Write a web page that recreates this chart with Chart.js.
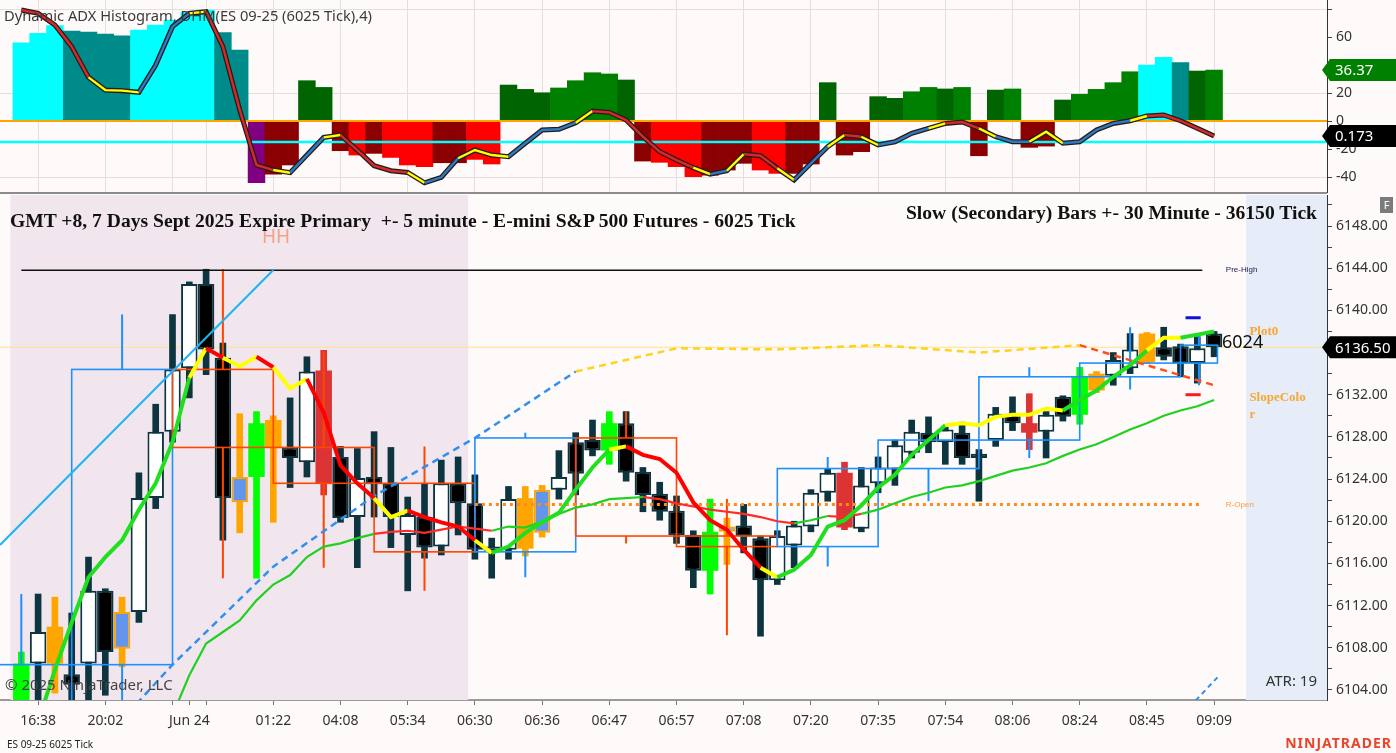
<!DOCTYPE html>
<html>
<head>
<meta charset="utf-8">
<script src="https://cdn.jsdelivr.net/npm/chart.js@4.4.1/dist/chart.umd.min.js"></script>
<style>
  html, body { margin: 0; padding: 0; background: #fefaf9; width: 1396px; height: 753px; overflow: hidden; }
  body { position: relative; font-family: "Noto Sans", sans-serif; }
  #top { position: absolute; left: 0; top: 0; width: 1396px; height: 193px; }
  #main { position: absolute; left: 0; top: 195px; width: 1396px; height: 558px; }
  .t { position: absolute; white-space: pre; line-height: 1; }
  .serif { font-family: "Liberation Serif", serif; font-weight: bold; font-size: 19.6px; color: #111; }
</style>
</head>
<body>
<div id="top"><canvas id="adx"></canvas></div>
<div id="main"><canvas id="price"></canvas></div>
<div style="position:absolute;left:0;top:192px;width:1327px;height:2px;background:#8c8c8c"></div>

<div class="t" style="left:4px;top:8px;font-size:14.7px;color:#3a3a3a">Dynamic ADX Histogram, DHM(ES 09-25 (6025 Tick),4)</div>
<div class="t serif" style="left:10px;top:211px">GMT +8, 7 Days Sept 2025 Expire Primary  +- 5 minute - E-mini S&amp;P 500 Futures - 6025 Tick</div>
<div class="t serif" style="right:79px;top:203px">Slow (Secondary) Bars +- 30 Minute - 36150 Tick</div>
<div class="t" style="left:5px;top:677px;font-size:15px;color:#444">© 2025 NinjaTrader, LLC</div>
<div class="t" style="right:79px;top:673px;font-size:15px;color:#333">ATR: 19</div>
<div class="t" style="left:7px;top:739px;font-size:10px;color:#222">ES 09-25 6025 Tick</div>
<div class="t" style="right:4px;top:736px;font-size:14px;font-weight:bold;color:#e8452c;letter-spacing:1px">NINJATRADER</div>
<div class="t" style="left:1380px;top:197px;width:13px;height:16px;background:#7b7b7b;color:#fff;font-size:11px;text-align:center;line-height:16px">F</div>

<script>
// bar axis: tick positions and their time labels
const tickPos  = [1, 5, 9, 10, 11, 15, 19, 23, 27, 31, 35, 39, 43, 47, 51, 55, 59, 63, 67, 71];
const tickText = ['16:38', '20:02', '', 'Jun 24', '', '01:22', '04:08', '05:34', '06:30', '06:36',
                  '06:47', '06:57', '07:08', '07:20', '07:35', '07:54', '08:06', '08:24', '08:45', '09:09'];

// primary candles (6025 tick)
const opens  = [6103,6106.5,6110,6105.5,6106.5,6113.4,6107.9,6111.4,6122.2,6128.5,
                6134.5,6142.5,6135.5,6121.8,6124.2,6129.6,6127,6125.6,6134.3,6126.1,
                6120.4,6124.2,6123.6,6118.7,6120.4,6117.6,6123.6,6121.7,6117.2,6117.3,
                6122.2,6118.9,6123,6127.5,6127.7,6126.7,6129.3,6124.7,6122.6,6121,
                6118.7,6115.3,6119,6119.6,6118.4,6114.4,6117.7,6119.5,6122.7,6124.6,
                6119.3,6123.6,6124.9,6126.5,6128.4,6127.5,6128.4,6126.4,6127.7,6130.2,
                6129.3,6128.5,6131.8,6130.1,6132.4,6133.8,6134.5,6135.1,6136.5,6136.6,
                6135,6137.8];
const highs  = [6107.6,6113.1,6112.8,6111.3,6116.6,6113.6,6112.8,6124.6,6131.1,6139.6,
                6142.7,6143.9,6136.9,6130.2,6130.4,6130,6131.7,6135.6,6136.2,6127.1,
                6126.9,6128.5,6127,6122.3,6123.6,6125.8,6126.1,6124.4,6118.4,6123.3,
                6123.3,6123.4,6126.7,6128.4,6129.6,6130.4,6130.4,6125.1,6123.7,6122.4,
                6119.1,6122.1,6120.3,6121.6,6118.6,6119.1,6120,6123,6125,6125.6,
                6125.1,6126.1,6127.7,6129.6,6129.9,6129,6129.4,6126.8,6130.8,6131.8,
                6132.1,6130.4,6131.9,6134.6,6134.2,6136,6137.8,6137.9,6138.4,6136.8,
                6137.5,6138];
const lows   = [6102,6103,6103.7,6102,6103,6103.5,6106.2,6110.4,6121.2,6127.5,
                6131.7,6133.9,6118.2,6118.9,6114.6,6119.9,6123.2,6124.2,6122.5,6119.9,
                6115.6,6120.4,6117.5,6113.4,6116.5,6116.8,6118.7,6116.4,6114.6,6116.4,
                6116.7,6118.5,6122.1,6122.5,6126.2,6125.4,6123.8,6120.9,6120.1,6117.9,
                6113.7,6113.1,6115.9,6117,6109.1,6114,6115.6,6119,6121.9,6119.2,
                6119,6122.7,6123.4,6126,6126.5,6125.4,6125.4,6121.9,6127.1,6128.6,
                6126.8,6126,6129.5,6129.2,6132.2,6132.9,6134,6135,6135.3,6133.7,
                6133.1,6135.6];
const closes = [6106.5,6109.5,6106.5,6104.5,6113.4,6107.6,6111.4,6122.2,6128.5,6134.4,
                6142.5,6136.3,6122.2,6124.2,6129.3,6127,6126,6134.2,6123.6,6120.3,
                6124.1,6123.5,6120.4,6120.6,6117.5,6123.6,6121.7,6117.3,6117.6,6122.1,
                6117.4,6123,6124.2,6124.5,6126.7,6129.3,6124.6,6122.5,6120.9,6118.7,
                6115.3,6119,6119.5,6118.6,6114.4,6118.6,6119.6,6122.7,6124.6,6119.4,
                6123.4,6125.1,6127.2,6128.5,6127.5,6128.7,6126,6126,6130.2,6129.3,
                6128.4,6130.1,6129.9,6133.7,6134,6135.3,6136.3,6137.8,6135.6,6135,
                6136.4,6136.5];
// paint-bar state per candle: . plain, o orange, g green, r red, b blue body / orange outline
const paintCodes = 'g.o...b...' + '...bgo..r.' + '..........' + 'ob...g....' + '.gb......r' +
                   '..........' + 'r..go..o..' + '..';

// secondary (30 minute) bars, spanning bar index ranges
const secFrom  = [-3, 3, 9, 15, 21, 27, 33, 39, 45, 51, 57, 63, 69];
const secTo    = [3, 9, 15, 21, 27, 33, 39, 45, 51, 57, 63, 69, 71.2];
const secOpen  = [6100,6106.4,6134.4,6127,6123.6,6117.1,6127.9,6118.6,6117.6,6125,6127.7,6133.7,6135];
const secClose = [6106.4,6134.4,6127,6123.6,6117.1,6127.9,6118.6,6117.6,6125,6127.7,6133.7,6135,6136.7];
const secHigh  = [6113.1,6139.6,6143.9,6136.1,6127.1,6128.4,6130.4,6122.1,6126.1,6127.7,6134.6,6138.4,6137.8];
const secLow   = [6099,6102,6114.6,6115.6,6113.4,6114.7,6117.9,6109.2,6115.7,6121.9,6126,6132.5,6132.9];

// moving averages on the price panel
const fastMa = [null,6101,6105.9,6110.4,6114.7,6116.6,6118.2,6121.1,6123.6,6127.5,
                6133.6,6136.4,6135.5,6134.7,6135.6,6134.6,6132.6,6133.5,6130.3,6125.3,
                6123.6,6122.2,6120.4,6121,6120.4,6119.9,6119.5,6118.2,6117,6117.6,
                6118.9,6119.9,6120.8,6123,6125.1,6126.8,6127.1,6126.3,6125.9,6124.6,
                6121.8,6120.1,6119.2,6117.3,6115.6,6114.7,6115.4,6116.8,6119.5,6120.1,
                6121.5,6123.2,6124.4,6126.3,6127.7,6129.1,6129.3,6129.1,6129.9,6130.1,
                6130.1,6130.7,6130.5,6131.5,6132.4,6133.7,6134.8,6136.2,6137.4,6137.4,
                6137.7,6138];
const fastCodes = 'gggggggggg' + 'yryyryyrrr' + 'ryyrrrrygg' + 'gggggyrrrr' + 'rrrryggggg' +
                  'gggggyyyyy' + 'yygggggyyg' + 'gg';
const slowMa = [null,null,null,null,null,null,null,null,null,6101.6,
                6105.4,6108.4,6109.5,6110.6,6112.5,6114,6114.9,6116.6,6117.6,6117.9,
                6118.4,6118.8,6119,6119.1,6118.9,6119.2,6119.5,6119.3,6119.1,6119.5,
                6119.4,6120,6120.7,6121.3,6121.6,6122.1,6122.2,6122.3,6122.1,6121.7,
                6121.4,6121.1,6120.9,6120.7,6120.4,6120,6119.8,6120.1,6120.5,6120.4,
                6120.7,6121.1,6121.7,6122.3,6122.7,6123.2,6123.4,6123.8,6124.3,6124.8,
                6125.1,6125.5,6126.2,6126.8,6127.3,6128,6128.7,6129.3,6130,6130.5,
                6130.9,6131.5];
const slowCodes = 'gggggggggg' + 'gggggggggg' + 'grrrrrrrgg' + 'gggggggrrr' + 'rrrrrrggrr' +
                  'gggggggggg' + 'gggggggggg' + 'gg';

// Plot0 slope line (one point per secondary bar) and its slope state
const plotX = [3, 9, 15, 21, 27, 33, 39, 45, 51, 57, 63, 71];
const plotY = [6096, 6106.4, 6115.7, 6122.4, 6127.9, 6134.2, 6136.4, 6136.3, 6136.7, 6136, 6136.7, 6132.9];
const plotCodes = 'bbbbbyyyyyo';
const lowRayX = [69.9, 71.2];
const lowRayY = [6103, 6105.2];

// trend line and levels
const trendX = [-1.268, 15];
const trendY = [6117.75, 6143.83];
const preHigh = 6143.8, preHighFrom = 0, preHighTo = 70.3;
const rOpen = 6121.6, rOpenFrom = 27, rOpenTo = 70.3;
const lastPrice = 6136.5;
const rangeMarkX = [69.3, 70.2];
const rangeTop = 6139.3, rangeBottom = 6132;

// ADX histogram panel
const histVals = [55.9,62.6,68.1,64.3,63.6,62.1,60.9,65,68.6,72.1,
                  77.4,79.3,63.1,50.7,-44.1,-37.9,-31.4,28.8,24,-21.2,
                  -24.3,-23.1,-26,-31.4,-32.6,-29.8,-29.8,-27.4,-30.7,25.7,
                  22.6,20.2,23.6,28.8,34.5,33.6,29.3,-28.6,-29.5,-32.6,
                  -39.8,-38.6,-35,-30.2,-35,-37.4,-37.4,-30.7,27.4,-24.3,
                  -21.9,17.4,16.2,20.9,24,22.9,24,-24.8,22.1,22.9,
                  -18.8,-17.9,15,19.1,22.6,27.4,35.2,40,45.5,41.7,
                  35.7,36.37];
const histCodes = 'cccttttccc' + 'ccttpRRGGR' + 'rRrrrRRrrG' + 'GGggggGRrr' + 'rRRRrrRRGR' +
                  'RGGggGgRGg' + 'RRGggggcct' + 'Gg';
const adxLine = [79.3,76.9,68.6,53.1,31.2,22.1,21.7,20.5,40,67.4,
                 76.9,78.1,53.1,7.9,-31.4,-35,-36.9,-24.3,-11.7,-10,
                 -20.7,-31.9,-35.5,-36.7,-44.1,-40.2,-26.6,-20.7,-24.3,-25.5,
                 -15.9,-6.4,-5.9,-1.2,7.1,6.2,0.7,-11.2,-21.9,-27.9,
                 -33.3,-37.9,-35.5,-23.6,-24.8,-33.8,-42.1,-30.2,-18.3,-10,
                 -11.2,-17.1,-14.8,-8.8,-5.2,-1.7,-0.7,-5.2,-11.2,-14.8,
                 -14.8,-7.6,-15.9,-14.8,-6.4,-1.7,0.2,3.6,4.3,0.2,
                 -5.2,-10.7];
const adxCodes = 'rrrryyybbb' + 'yrrrrybbyr' + 'rrrybbyyyb' + 'bbbyrrrrrr' + 'ybyrrybbyr' +
                 'ybbbyrrybb' + 'yybbbbyrrr' + 'rr';
const adxLevel = -15;
const adxTicks = [-40, -20, 0, 20, 40, 60, 80];
const adxLabel = '0.173';

// ---- styling ----
const xMin = -1.268, xMax = 77.72;
const histPalette = { c: '#00ffff', t: '#008b8b', p: '#800080', R: '#8b0000', r: '#ff0000', G: '#006400', g: '#008000' };
const adxPalette = { r: '#d42a2a', y: '#ffff00', b: '#2b7bc4' };
const fastPalette = { g: '#1ee01e', y: '#ffff00', r: '#ff0000' };
const slowPalette = { g: '#22d022', r: '#ff2a2a' };
const plotPalette = { b: '#3090f0', y: '#ffd21e', o: '#ff4e1a' };
const outline = '#0d3540';
const paint = {
  o: { fill: '#ffa500', edge: '#ffa500', wick: '#ffa500', bw: 0 },
  g: { fill: '#00ff00', edge: '#00ff00', wick: '#00ff00', bw: 0 },
  r: { fill: '#dc3434', edge: '#dc3434', wick: '#dc3434', bw: 0 },
  b: { fill: '#6495ed', edge: '#ffa500', wick: '#ffa500', bw: 2 }
};
function candleStyle(i) {
  const p = paint[paintCodes[i]];
  if (p) return p;
  const up = closes[i] >= opens[i];
  return { fill: up ? '#ffffff' : '#000000', edge: outline, wick: outline, bw: 2 };
}
const pts = (xs, ys) => xs.map((x, i) => ({ x: x, y: ys[i] }));
const byIndex = ys => ys.map((y, i) => ({ x: i, y: y }));
const tickFont = { family: '"Noto Sans", sans-serif', size: 14 };

function fixTicks(values) {
  return function (scale) { scale.ticks = values.map(v => ({ value: v })); };
}
// keep the plot area flush with the panel edges (no room reserved for edge labels)
function noPad(size, key) {
  return function (scale) {
    scale[key] = size;
    scale.paddingTop = 0; scale.paddingBottom = 0;
    scale.paddingLeft = 0; scale.paddingRight = 0;
  };
}
function flag(ctx, yPix, text, bg) {
  const x0 = 1322, w = 74, h = 22;
  ctx.save();
  ctx.fillStyle = bg;
  ctx.beginPath();
  ctx.moveTo(x0, yPix);
  ctx.lineTo(x0 + 8, yPix - h / 2);
  ctx.lineTo(x0 + w, yPix - h / 2);
  ctx.lineTo(x0 + w, yPix + h / 2);
  ctx.lineTo(x0 + 8, yPix + h / 2);
  ctx.closePath();
  ctx.fill();
  ctx.fillStyle = '#ffffff';
  ctx.font = '15px "Noto Sans", sans-serif';
  ctx.textBaseline = 'middle';
  ctx.fillText(text, x0 + 13, yPix + 1);
  ctx.restore();
}

// ---- top panel: ADX histogram ----
const adxFlags = {
  id: 'adxFlags',
  afterDraw(chart) {
    const y = chart.scales.y;
    flag(chart.ctx, y.getPixelForValue(histVals[histVals.length - 1]), histVals[histVals.length - 1].toFixed(2), '#008000');
    flag(chart.ctx, y.getPixelForValue(adxLine[adxLine.length - 1]), adxLabel, '#000000');
  }
};

new Chart(document.getElementById('adx'), {
  type: 'bar',
  data: {
    datasets: [
      {
        type: 'bar', data: byIndex(histVals),
        backgroundColor: histCodes.split('').map(c => histPalette[c]),
        barPercentage: 1, categoryPercentage: 1, grouped: false, order: 10
      },
      {
        type: 'line', data: pts([xMin, xMax], [0, 0]),
        borderColor: '#ffa500', borderWidth: 2, pointRadius: 0, order: 5
      },
      {
        type: 'line', data: pts([xMin, xMax], [adxLevel, adxLevel]),
        borderColor: '#00ffff', borderWidth: 2.5, pointRadius: 0, order: 4
      },
      {
        type: 'line', data: byIndex(adxLine),
        borderColor: '#2a1a1a', borderWidth: 5, pointRadius: 0, order: 2
      },
      {
        type: 'line', data: byIndex(adxLine), borderWidth: 2.4, pointRadius: 0, order: 1,
        segment: { borderColor: c => adxPalette[adxCodes[c.p0DataIndex]] }
      }
    ]
  },
  options: {
    animation: false, responsive: true, maintainAspectRatio: false,
    layout: { padding: 0 },
    plugins: { legend: { display: false }, tooltip: { enabled: false } },
    scales: {
      x: {
        type: 'linear', min: xMin, max: xMax, offset: false,
        afterBuildTicks: fixTicks(tickPos),
        afterFit: noPad(0, 'height'),
        ticks: { display: false },
        border: { display: false },
        grid: {
          offset: false, drawTicks: false,
          color: c => (c.tick && tickText[tickPos.indexOf(c.tick.value)] === 'Jun 24') ? 'rgba(0,0,0,0)' : '#e4dfdf'
        }
      },
      y: {
        type: 'linear', position: 'right', min: -51.4, max: 86.43,
        afterBuildTicks: fixTicks(adxTicks),
        afterFit: noPad(69, 'width'),
        ticks: { color: '#333', font: tickFont, padding: 4, callback: v => (v === 80 ? '' : String(v)) },
        border: { color: '#333', width: 1 },
        grid: {
          tickLength: 5, tickColor: '#444',
          color: c => (c.tick && [-40, 20, 80].includes(c.tick.value)) ? '#e4dfdf' : 'rgba(0,0,0,0)'
        }
      }
    }
  },
  plugins: [adxFlags]
});

// ---- price panel ----
const shade = {
  id: 'shade',
  beforeDatasetsDraw(chart) {
    const { ctx, chartArea: a, scales: { x } } = chart;
    ctx.save();
    const l = x.getPixelForValue(-0.65), r = x.getPixelForValue(26.6);
    ctx.fillStyle = '#f1e6ee';
    ctx.fillRect(l, a.top, r - l, a.height);
    const f = x.getPixelForValue(72.9);
    ctx.fillStyle = '#e6edf8';
    ctx.fillRect(f, a.top, a.right - f, a.height);
    ctx.restore();
  }
};

const secondaryBars = {
  id: 'secondaryBars',
  afterDatasetDraw(chart, args) {
    if (args.index !== 1) return;
    const { ctx, chartArea: a, scales: { x, y } } = chart;
    ctx.save();
    ctx.beginPath();
    ctx.rect(a.left, a.top, a.width, a.height);
    ctx.clip();
    secFrom.forEach((from, i) => {
      const up = secClose[i] >= secOpen[i];
      const x0 = x.getPixelForValue(from), x1 = x.getPixelForValue(secTo[i]);
      const xm = (x0 + x1) / 2;
      const top = y.getPixelForValue(Math.max(secOpen[i], secClose[i]));
      const bot = y.getPixelForValue(Math.min(secOpen[i], secClose[i]));
      ctx.strokeStyle = up ? '#1e90ff' : '#ff4500';
      ctx.lineWidth = 1.6;
      ctx.strokeRect(x0, top, x1 - x0, bot - top);
      ctx.lineWidth = 2;
      ctx.beginPath();
      ctx.moveTo(xm, y.getPixelForValue(secHigh[i]));
      ctx.lineTo(xm, top);
      ctx.moveTo(xm, bot);
      ctx.lineTo(xm, y.getPixelForValue(secLow[i]));
      ctx.stroke();
    });
    ctx.restore();
  }
};

const priceLabels = {
  id: 'priceLabels',
  afterDraw(chart) {
    const { ctx, scales: { x, y } } = chart;
    ctx.save();
    ctx.textBaseline = 'middle';
    ctx.font = '8px "Liberation Sans", sans-serif';
    ctx.fillStyle = '#23234f';
    ctx.fillText('Pre-High', x.getPixelForValue(71.7), y.getPixelForValue(preHigh));
    ctx.fillStyle = '#ff9a40';
    ctx.fillText('R-Open', x.getPixelForValue(71.7), y.getPixelForValue(rOpen));
    ctx.font = 'bold 13px "Liberation Serif", serif';
    ctx.fillStyle = '#f7a733';
    ctx.fillText('Plot0', x.getPixelForValue(73.1), y.getPixelForValue(6138.0));
    ctx.fillText('SlopeColo', x.getPixelForValue(73.1), y.getPixelForValue(6131.7));
    ctx.fillText('r', x.getPixelForValue(73.1), y.getPixelForValue(6130.1));
    ctx.font = '18px "Noto Sans", sans-serif';
    ctx.fillStyle = '#111';
    ctx.fillText('6024', x.getPixelForValue(71.47), y.getPixelForValue(6136.9));
    ctx.font = '19px "Noto Sans", sans-serif';
    ctx.fillStyle = '#f4a184';
    ctx.textAlign = 'center';
    ctx.fillText('HH', x.getPixelForValue(15.16), y.getPixelForValue(6146.9));
    ctx.restore();
    flag(ctx, y.getPixelForValue(lastPrice), lastPrice.toFixed(2), '#000000');
  }
};

const priceTicks = [];
for (let v = 6104; v <= 6150; v += 2) priceTicks.push(v);

new Chart(document.getElementById('price'), {
  type: 'bar',
  data: {
    datasets: [
      {
        type: 'bar', label: 'wicks', grouped: false, order: 30,
        data: highs.map((h, i) => ({ x: i, y: [lows[i], h] })),
        backgroundColor: highs.map((h, i) => candleStyle(i).wick),
        barThickness: 6, borderWidth: 0
      },
      {
        type: 'bar', label: 'bodies', grouped: false, order: 29,
        data: opens.map((o, i) => ({ x: i, y: [o, closes[i]] })),
        backgroundColor: opens.map((o, i) => candleStyle(i).fill),
        borderColor: opens.map((o, i) => candleStyle(i).edge),
        borderWidth: opens.map((o, i) => candleStyle(i).bw),
        borderSkipped: false, minBarLength: 3,
        barPercentage: 0.98, categoryPercentage: 1
      },
      {
        type: 'line', data: pts([preHighFrom, preHighTo], [preHigh, preHigh]),
        borderColor: '#111', borderWidth: 1.5, pointRadius: 0, order: 12
      },
      {
        type: 'line', data: pts([rOpenFrom, rOpenTo], [rOpen, rOpen]),
        borderColor: '#ff8c1a', borderWidth: 3, borderDash: [3, 4], pointRadius: 0, order: 12
      },
      {
        type: 'line', data: pts([xMin, xMax], [lastPrice, lastPrice]),
        borderColor: '#ffe28a', borderWidth: 1, pointRadius: 0, order: 31
      },
      {
        type: 'line', data: pts(trendX, trendY),
        borderColor: '#1eb4f0', borderWidth: 2, pointRadius: 0, order: 8
      },
      {
        type: 'line', data: pts(plotX, plotY), borderWidth: 2.5, borderDash: [7, 5], pointRadius: 0, order: 7,
        segment: { borderColor: c => plotPalette[plotCodes[c.p0DataIndex]] }
      },
      {
        type: 'line', data: pts(lowRayX, lowRayY),
        borderColor: '#3090f0', borderWidth: 2, borderDash: [5, 4], pointRadius: 0, order: 7
      },
      {
        type: 'line', data: byIndex(slowMa), borderWidth: 2.2, pointRadius: 0, order: 4,
        segment: { borderColor: c => slowPalette[slowCodes[c.p0DataIndex]] }
      },
      {
        type: 'line', data: byIndex(fastMa), borderWidth: 4, pointRadius: 0, order: 3,
        segment: { borderColor: c => fastPalette[fastCodes[c.p0DataIndex]] }
      },
      {
        type: 'line', data: pts(rangeMarkX, [rangeTop, rangeTop]),
        borderColor: '#1010e0', borderWidth: 3, pointRadius: 0, order: 2
      },
      {
        type: 'line', data: pts(rangeMarkX, [rangeBottom, rangeBottom]),
        borderColor: '#ff1a1a', borderWidth: 3, pointRadius: 0, order: 2
      }
    ]
  },
  options: {
    animation: false, responsive: true, maintainAspectRatio: false,
    layout: { padding: 0 },
    plugins: { legend: { display: false }, tooltip: { enabled: false } },
    scales: {
      x: {
        type: 'linear', min: xMin, max: xMax, offset: false,
        afterBuildTicks: fixTicks(tickPos),
        afterFit: noPad(53, 'height'),
        ticks: {
          color: '#333', font: tickFont, padding: 8, maxRotation: 0, autoSkip: false,
          callback: v => tickText[tickPos.indexOf(v)] || ''
        },
        border: { color: '#9a9a9a', width: 2 },
        grid: { offset: false, drawOnChartArea: false, tickLength: 5, tickColor: '#777' }
      },
      y: {
        type: 'linear', position: 'right', min: 6103.05, max: 6150.94,
        afterBuildTicks: fixTicks(priceTicks),
        afterFit: noPad(69, 'width'),
        ticks: {
          color: '#333', font: tickFont, padding: 4,
          callback: v => (v % 4 === 0 ? v.toFixed(2) : '')
        },
        border: { color: '#333', width: 1 },
        grid: { drawOnChartArea: false, tickLength: 5, tickColor: '#444' }
      }
    }
  },
  plugins: [shade, secondaryBars, priceLabels]
});
</script>
</body>
</html>
